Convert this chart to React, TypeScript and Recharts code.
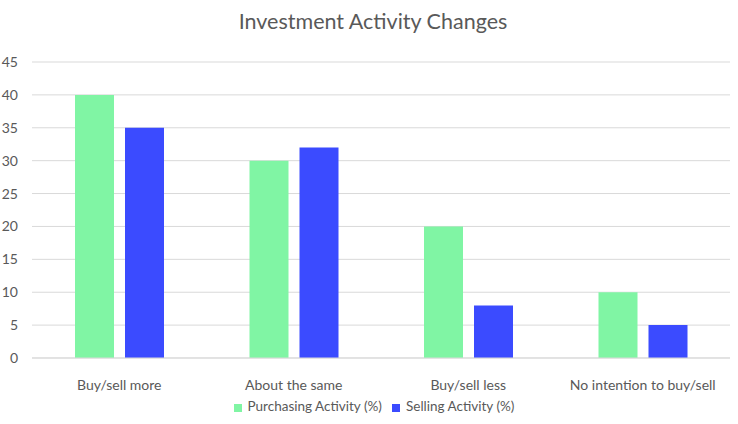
import React from 'react';
import { BarChart, Bar, XAxis, YAxis, CartesianGrid, Legend } from 'recharts';

const categories = ['Buy/sell more', 'About the same', 'Buy/sell less', 'No intention to buy/sell'];
const purchasing = [40, 30, 20, 10];
const selling = [35, 32, 8, 5];
const yTicks = [0, 5, 10, 15, 20, 25, 30, 35, 40, 45];

const data = categories.map((c, i) => ({ name: c, purchasing: purchasing[i], selling: selling[i] }));

const FONT = 'Lato, "Open Sans", sans-serif';
const TEXT = '#595959';

export default function App() {
  return (
    <div style={{ position: 'absolute', left: 0, top: 0, width: 738, height: 424, background: '#fff', fontFamily: FONT }}>
      <div style={{ position: 'absolute', left: 4, top: 8, width: 738, textAlign: 'center', fontSize: 21.5, color: TEXT, fontFamily: FONT }}>
        Investment Activity Changes
      </div>
      <BarChart width={738} height={424} data={data} margin={{ top: 62, right: 8, left: 0, bottom: 8 }} barGap={11} barSize={39}>
        <CartesianGrid vertical={false} stroke="#d9d9d9" />
        <XAxis dataKey="name" axisLine={{ stroke: '#d9d9d9' }} tickLine={false} tick={{ fill: TEXT, fontSize: 14, fontFamily: FONT }} tickMargin={16} height={28} interval={0} />
        <YAxis domain={[0, 45]} ticks={yTicks} axisLine={false} tickLine={false} tickSize={0} tickMargin={14} width={32} tick={{ fill: TEXT, fontSize: 14, fontFamily: FONT }} />
        <Legend verticalAlign="bottom" height={30} iconType="square" iconSize={8}
          wrapperStyle={{ fontSize: 13.5, fontFamily: FONT, color: TEXT, top: 398, bottom: 'auto', left: 14 }}
          formatter={(v) => <span style={{ color: TEXT, marginLeft: 2 }}>{v}</span>} />
        <Bar dataKey="purchasing" name="Purchasing Activity (%)" fill="#80F5A4" isAnimationActive={false} />
        <Bar dataKey="selling" name="Selling Activity (%)" fill="#3B4BFF" isAnimationActive={false} />
      </BarChart>
    </div>
  );
}
